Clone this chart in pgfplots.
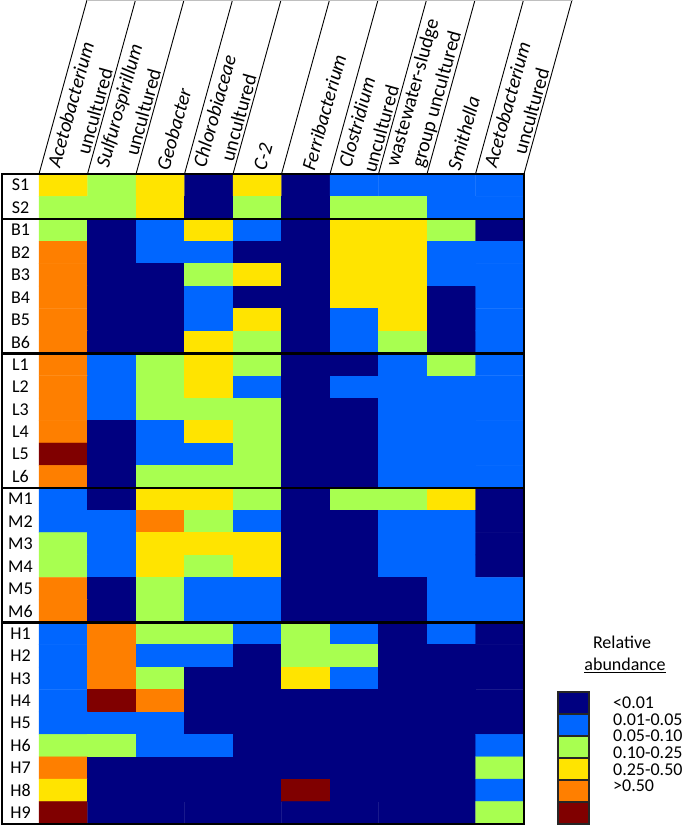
\documentclass[border=0pt]{standalone}
\usepackage{fontspec}
\setmainfont{Carlito}
\usepackage{pgfplots}
\pgfplotsset{compat=1.18}
\definecolor{c0}{RGB}{0,0,128}
\definecolor{c1}{RGB}{0,102,255}
\definecolor{c2}{RGB}{168,255,80}
\definecolor{c3}{RGB}{255,228,0}
\definecolor{c4}{RGB}{255,127,0}
\definecolor{c5}{RGB}{128,0,0}
\begin{document}
\begin{tikzpicture}
\useasboundingbox (0,0) rectangle (691bp,828bp);
\begin{axis}[
  at={(2bp,4bp)}, anchor=south west,
  scale only axis, width=522bp, height=650bp,
  xmin=-1.263, xmax=9.5, ymin=-0.5, ymax=28.5,
  y dir=reverse,
  axis on top,
  axis line style={line width=2bp, black},
  xtick=\empty,
  ytick={0,...,28},
  yticklabels={S1,S2,B1,B2,B3,B4,B5,B6,L1,L2,L3,L4,L5,L6,M1,M2,M3,M4,M5,M6,H1,H2,H3,H4,H5,H6,H7,H8,H9},
  yticklabel style={anchor=center, xshift=18.5bp, font=\fontsize{18bp}{20bp}\selectfont},
  major tick length=0pt,
  tick style={draw=none},
  colormap={cat}{rgb255=(0,0,128) rgb255=(0,102,255) rgb255=(168,255,80) rgb255=(255,228,0) rgb255=(255,127,0) rgb255=(128,0,0)},
  point meta min=0, point meta max=5,
  clip=false,
]
\addplot[matrix plot*, mesh/cols=10, point meta=explicit] coordinates {
(0,0)[3] (1,0)[2] (2,0)[3] (3,0)[0] (4,0)[3] (5,0)[0] (6,0)[1] (7,0)[1] (8,0)[1] (9,0)[1]
(0,1)[2] (1,1)[2] (2,1)[3] (3,1)[0] (4,1)[2] (5,1)[0] (6,1)[2] (7,1)[2] (8,1)[1] (9,1)[1]
(0,2)[2] (1,2)[0] (2,2)[1] (3,2)[3] (4,2)[1] (5,2)[0] (6,2)[3] (7,2)[3] (8,2)[2] (9,2)[0]
(0,3)[4] (1,3)[0] (2,3)[1] (3,3)[1] (4,3)[0] (5,3)[0] (6,3)[3] (7,3)[3] (8,3)[1] (9,3)[1]
(0,4)[4] (1,4)[0] (2,4)[0] (3,4)[2] (4,4)[3] (5,4)[0] (6,4)[3] (7,4)[3] (8,4)[1] (9,4)[1]
(0,5)[4] (1,5)[0] (2,5)[0] (3,5)[1] (4,5)[0] (5,5)[0] (6,5)[3] (7,5)[3] (8,5)[0] (9,5)[1]
(0,6)[4] (1,6)[0] (2,6)[0] (3,6)[1] (4,6)[3] (5,6)[0] (6,6)[1] (7,6)[3] (8,6)[0] (9,6)[1]
(0,7)[4] (1,7)[0] (2,7)[0] (3,7)[3] (4,7)[2] (5,7)[0] (6,7)[1] (7,7)[2] (8,7)[0] (9,7)[1]
(0,8)[4] (1,8)[1] (2,8)[2] (3,8)[3] (4,8)[2] (5,8)[0] (6,8)[0] (7,8)[1] (8,8)[2] (9,8)[1]
(0,9)[4] (1,9)[1] (2,9)[2] (3,9)[3] (4,9)[1] (5,9)[0] (6,9)[1] (7,9)[1] (8,9)[1] (9,9)[1]
(0,10)[4] (1,10)[1] (2,10)[2] (3,10)[2] (4,10)[2] (5,10)[0] (6,10)[0] (7,10)[1] (8,10)[1] (9,10)[1]
(0,11)[4] (1,11)[0] (2,11)[1] (3,11)[3] (4,11)[2] (5,11)[0] (6,11)[0] (7,11)[1] (8,11)[1] (9,11)[1]
(0,12)[5] (1,12)[0] (2,12)[1] (3,12)[1] (4,12)[2] (5,12)[0] (6,12)[0] (7,12)[1] (8,12)[1] (9,12)[1]
(0,13)[4] (1,13)[0] (2,13)[2] (3,13)[2] (4,13)[2] (5,13)[0] (6,13)[0] (7,13)[1] (8,13)[1] (9,13)[1]
(0,14)[1] (1,14)[0] (2,14)[3] (3,14)[3] (4,14)[2] (5,14)[0] (6,14)[2] (7,14)[2] (8,14)[3] (9,14)[0]
(0,15)[1] (1,15)[1] (2,15)[4] (3,15)[2] (4,15)[1] (5,15)[0] (6,15)[0] (7,15)[1] (8,15)[1] (9,15)[0]
(0,16)[2] (1,16)[1] (2,16)[3] (3,16)[3] (4,16)[3] (5,16)[0] (6,16)[0] (7,16)[1] (8,16)[1] (9,16)[0]
(0,17)[2] (1,17)[1] (2,17)[3] (3,17)[2] (4,17)[3] (5,17)[0] (6,17)[0] (7,17)[1] (8,17)[1] (9,17)[0]
(0,18)[4] (1,18)[0] (2,18)[2] (3,18)[1] (4,18)[1] (5,18)[0] (6,18)[0] (7,18)[0] (8,18)[1] (9,18)[1]
(0,19)[4] (1,19)[0] (2,19)[2] (3,19)[1] (4,19)[1] (5,19)[0] (6,19)[0] (7,19)[0] (8,19)[1] (9,19)[1]
(0,20)[1] (1,20)[4] (2,20)[2] (3,20)[2] (4,20)[1] (5,20)[2] (6,20)[1] (7,20)[0] (8,20)[1] (9,20)[0]
(0,21)[1] (1,21)[4] (2,21)[1] (3,21)[1] (4,21)[0] (5,21)[2] (6,21)[2] (7,21)[0] (8,21)[0] (9,21)[0]
(0,22)[1] (1,22)[4] (2,22)[2] (3,22)[0] (4,22)[0] (5,22)[3] (6,22)[1] (7,22)[0] (8,22)[0] (9,22)[0]
(0,23)[1] (1,23)[5] (2,23)[4] (3,23)[0] (4,23)[0] (5,23)[0] (6,23)[0] (7,23)[0] (8,23)[0] (9,23)[0]
(0,24)[1] (1,24)[1] (2,24)[1] (3,24)[0] (4,24)[0] (5,24)[0] (6,24)[0] (7,24)[0] (8,24)[0] (9,24)[0]
(0,25)[2] (1,25)[2] (2,25)[1] (3,25)[1] (4,25)[0] (5,25)[0] (6,25)[0] (7,25)[0] (8,25)[0] (9,25)[1]
(0,26)[4] (1,26)[0] (2,26)[0] (3,26)[0] (4,26)[0] (5,26)[0] (6,26)[0] (7,26)[0] (8,26)[0] (9,26)[2]
(0,27)[3] (1,27)[0] (2,27)[0] (3,27)[0] (4,27)[0] (5,27)[5] (6,27)[0] (7,27)[0] (8,27)[0] (9,27)[1]
(0,28)[5] (1,28)[0] (2,28)[0] (3,28)[0] (4,28)[0] (5,28)[0] (6,28)[0] (7,28)[0] (8,28)[0] (9,28)[2]
};
\draw[line width=2.5bp, black] (axis cs:-1.263,1.5) -- (axis cs:9.5,1.5);
\draw[line width=2.5bp, black] (axis cs:-1.263,7.5) -- (axis cs:9.5,7.5);
\draw[line width=2.5bp, black] (axis cs:-1.263,13.5) -- (axis cs:9.5,13.5);
\draw[line width=2.5bp, black] (axis cs:-1.263,19.5) -- (axis cs:9.5,19.5);
\end{axis}
\begin{scope}[x=1bp, y=1bp]
  \foreach \i in {0,...,10}{
    \draw[line width=0.9bp] ({39+48.5*\i},654) -- ({87+48.5*\i},828);
  }
  \draw[line width=0.6bp, gray!50] (87,827.6) -- (572,827.6);
  \foreach \i/\t in {0/{\textit{Acetobacterium}\\uncultured},
                     1/{\textit{Sulfurospirillum}\\uncultured},
                     2/{\textit{Geobacter}},
                     3/{\textit{Chlorobiaceae}\\uncultured},
                     4/{\textit{C-2}},
                     5/{\textit{Ferribacterium}},
                     6/{\textit{Clostridium}\\uncultured},
                     7/{wastewater-sludge\\group uncultured},
                     8/{\textit{Smithella}},
                     9/{\textit{Acetobacterium}\\uncultured}}{
    \node[rotate=74.5, anchor=west, align=center, inner sep=0pt,
          font=\fontsize{20bp}{25bp}\selectfont] at ({65.5+48.5*\i},658) {\t};
  }
  % legend
  \node[font=\fontsize{18bp}{20bp}\selectfont] at (622,186) {Relative};
  \node[font=\fontsize{18bp}{20bp}\selectfont] at (625,163) {\underline{abundance}};
  \foreach \k/\c in {0/c0,1/c1,2/c2,3/c3,4/c4,5/c5}{
    \draw[fill=\c, line width=1.5bp, draw=black!85] (558,{136-22*\k}) rectangle (589,{114-22*\k});
  }
  \foreach \k/\l in {0/{<0.01},1/{0.01-0.05},2/{0.05-0.10},3/{0.10-0.25},4/{0.25-0.50},5/{>0.50}}{
    \node[anchor=west, inner sep=0pt, font=\fontsize{18bp}{20bp}\selectfont] at (613,{125.3-16.7*\k}) {\l};
  }
\end{scope}
\end{tikzpicture}
\end{document}
